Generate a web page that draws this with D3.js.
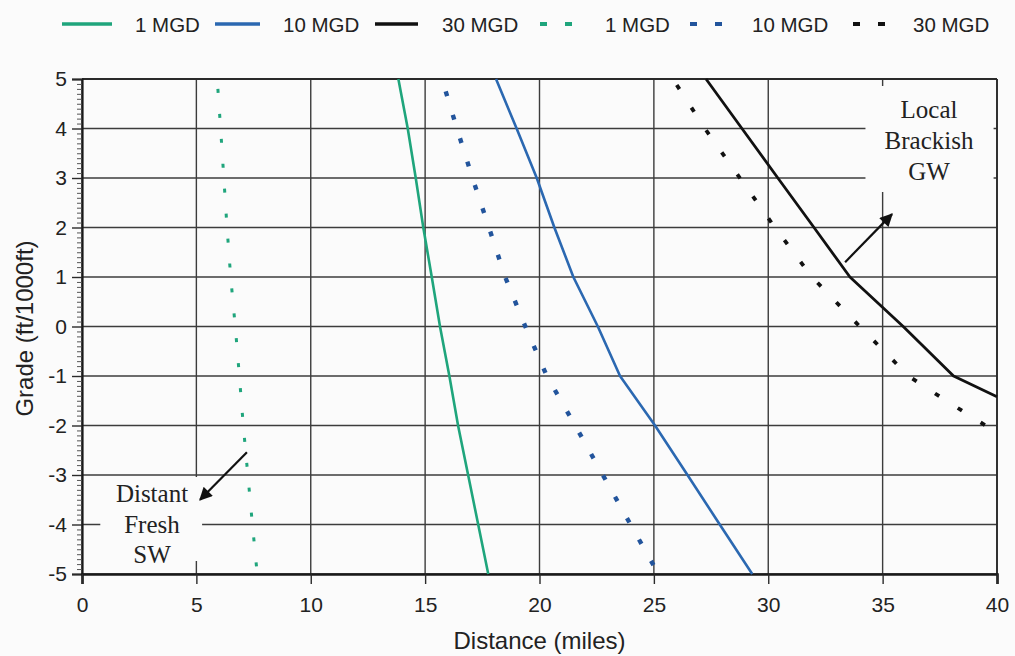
<!DOCTYPE html>
<html><head><meta charset="utf-8">
<script src="https://cdn.jsdelivr.net/npm/d3@7"></script>
<style>
html,body{margin:0;padding:0;background:#fbfbfb;}
svg{display:block;}
</style></head><body>
<svg id="chart" width="1015" height="656"></svg>
<script>
// ---- data (distance in miles, grade in ft/1000ft) ----
const xTicks = [0, 5, 10, 15, 20, 25, 30, 35, 40];
const yTicks = [5, 4, 3, 2, 1, 0, -1, -2, -3, -4, -5];
const legendLabels = ["1 MGD", "10 MGD", "30 MGD", "1 MGD", "10 MGD", "30 MGD"];

const brackish1MGD = [[13.83,5],[14.24,4],[14.59,3],[14.92,2],[15.29,1],[15.65,0],[16.06,-1],[16.44,-2],[16.88,-3],[17.32,-4],[17.76,-5]];
const brackish10MGD = [[18.1,5],[19.0,4],[19.88,3],[20.65,2],[21.48,1],[22.55,0],[23.52,-1],[25.05,-2],[26.47,-3],[27.88,-4],[29.3,-5]];
const brackish30MGD = [[27.28,5],[28.85,4],[30.42,3],[32.0,2],[33.57,1],[35.9,0],[38.1,-1],[40,-1.42]];
const fresh1MGD = [[5.94,4.8],[6.06,4],[6.2,3],[6.34,2],[6.5,1],[6.7,0],[6.88,-1],[7.05,-2],[7.25,-3],[7.45,-4],[7.66,-5]];
const fresh10MGD = [[15.9,4.75],[16.39,4],[17.07,3],[17.79,2],[18.5,1],[19.38,0],[20.32,-1],[21.56,-2],[22.77,-3],[23.98,-4],[25.2,-5]];
const fresh30MGD = [[26.0,4.88],[27.23,4],[28.76,3],[30.29,2],[31.91,1],[34.0,0],[36.13,-1],[37.11,-1.3],[38.94,-1.84],[40,-2.14]];

const annotLocal = ["Local", "Brackish", "GW"];
const annotDistant = ["Distant", "Fresh", "SW"];

// ---- layout ----
const svg = d3.select("#chart");
const x = d3.scaleLinear().domain([0, 40]).range([82, 997]);
const y = d3.scaleLinear().domain([-5, 5]).range([574, 79]);
const sans = "'Liberation Sans', Arial, Helvetica, sans-serif";
const serif = "'Liberation Serif', 'Times New Roman', serif";
const GREEN = "#1fa57c", BLUE = "#2b68b1", NAVY = "#22549c", BLACK = "#111";

const styles = [
  {data: brackish1MGD, color: GREEN, width: 2.6, dash: null},
  {data: brackish10MGD, color: BLUE, width: 2.6, dash: null},
  {data: brackish30MGD, color: BLACK, width: 2.8, dash: null},
  {data: fresh1MGD, color: GREEN, width: 3, dash: "4,21"},
  {data: fresh10MGD, color: NAVY, width: 4.4, dash: "5,19.5"},
  {data: fresh30MGD, color: BLACK, width: 3.8, dash: "5,22"}
];

// clip
const defs = svg.append("defs");
defs.append("clipPath").attr("id", "plotclip")
  .append("rect").attr("x", x(0)).attr("y", y(5) - 2).attr("width", x(40) - x(0) + 2).attr("height", y(-5) - y(5) + 4);

// arrow marker
defs.append("marker").attr("id", "arrow")
  .attr("viewBox", "0 0 10 10").attr("refX", 9).attr("refY", 5)
  .attr("markerWidth", 17).attr("markerHeight", 13).attr("markerUnits", "userSpaceOnUse")
  .attr("orient", "auto")
  .append("path").attr("d", "M0,0 L10,5 L0,10 Z").attr("fill", BLACK);

// gridlines
const grid = svg.append("g").attr("stroke", "#3c3c3c").attr("stroke-width", 1.4);
grid.selectAll(".gx").data(xTicks).join("line")
  .attr("x1", d => x(d)).attr("x2", d => x(d)).attr("y1", y(5)).attr("y2", y(-5));
grid.selectAll(".gy").data(yTicks).join("line")
  .attr("x1", x(0)).attr("x2", x(40)).attr("y1", d => y(d)).attr("y2", d => y(d));
svg.append("line").attr("x1", x(0)).attr("x2", x(40)).attr("y1", y(5)).attr("y2", y(5))
  .attr("stroke", "#2a2a2a").attr("stroke-width", 2);
svg.append("line").attr("x1", x(40)).attr("x2", x(40)).attr("y1", y(5)).attr("y2", y(-5))
  .attr("stroke", "#2a2a2a").attr("stroke-width", 1.8);

// annotation background boxes (hide gridlines)
const bg = "#fbfbfb";
svg.append("rect").attr("x", x(34.25)).attr("y", 86).attr("width", x(39.85) - x(34.25)).attr("height", 106).attr("fill", bg);
svg.append("rect").attr("x", x(0.8)).attr("y", 477).attr("width", x(5.25) - x(0.8)).attr("height", 84).attr("fill", bg);

// axes
const fmt = d => String(d);
const yAxis = d3.axisLeft(y).tickValues(yTicks).tickSize(10).tickPadding(5).tickFormat(fmt);
const gy = svg.append("g").attr("transform", `translate(${x(0)},0)`).call(yAxis);
const yMinor = d3.range(-50, 51).filter(v => v % 10 !== 0).map(v => v / 10);
const gym = svg.append("g").attr("transform", `translate(${x(0)},0)`)
  .call(d3.axisLeft(y).tickValues(yMinor).tickSize(5).tickFormat(""));
gym.select(".domain").remove();
gym.selectAll("line").attr("stroke", "#555").attr("stroke-width", 1);

const xAxis = d3.axisBottom(x).tickValues(xTicks).tickSize(10).tickPadding(13).tickFormat(fmt);
const gx = svg.append("g").attr("transform", `translate(0,${y(-5)})`).call(xAxis);

[gy, gx].forEach(g => {
  g.select(".domain").attr("stroke", "#1a1a1a").attr("stroke-width", 2.2);
  g.selectAll(".tick line").attr("stroke", "#2a2a2a").attr("stroke-width", 1.4);
  g.selectAll("text").attr("font-family", sans).attr("font-size", 21).attr("fill", "#222");
});
gx.select(".domain").attr("stroke-width", 2.6);

// axis titles
svg.append("text").attr("x", (x(0) + x(40)) / 2).attr("y", 649)
  .attr("text-anchor", "middle").attr("font-family", sans).attr("font-size", 24).attr("fill", "#222")
  .text("Distance (miles)");
svg.append("text").attr("transform", `translate(33,${(y(5) + y(-5)) / 2 + 2}) rotate(-90)`)
  .attr("text-anchor", "middle").attr("font-family", sans).attr("font-size", 24).attr("fill", "#222")
  .text("Grade (ft/1000ft)");

// series
const line = d3.line().x(d => x(d[0])).y(d => y(d[1]));
const plot = svg.append("g").attr("clip-path", "url(#plotclip)");
styles.forEach(s => {
  plot.append("path").datum(s.data).attr("d", line)
    .attr("fill", "none").attr("stroke", s.color).attr("stroke-width", s.width)
    .attr("stroke-dasharray", s.dash).attr("stroke-linejoin", "round");
});

// annotations
svg.append("line").attr("x1", x(33.36)).attr("y1", y(1.30)).attr("x2", x(35.41)).attr("y2", y(2.27))
  .attr("stroke", BLACK).attr("stroke-width", 2.2).attr("marker-end", "url(#arrow)");
svg.append("line").attr("x1", x(7.21)).attr("y1", y(-2.54)).attr("x2", x(5.16)).attr("y2", y(-3.5))
  .attr("stroke", BLACK).attr("stroke-width", 2.2).attr("marker-end", "url(#arrow)");

svg.append("g").selectAll("text").data(annotLocal).join("text")
  .attr("x", x(37.03)).attr("y", (d, i) => 118 + i * 31)
  .attr("text-anchor", "middle").attr("font-family", serif).attr("font-size", 25).attr("fill", "#222")
  .text(d => d);
svg.append("g").selectAll("text").data(annotDistant).join("text")
  .attr("x", x(3.06)).attr("y", (d, i) => 502 + i * 30.5)
  .attr("text-anchor", "middle").attr("font-family", serif).attr("font-size", 25).attr("fill", "#222")
  .text(d => d);

// legend
const legendPos = [
  {x1: 62, x2: 112, tx: 135},
  {x1: 215, x2: 260, tx: 283},
  {x1: 375, x2: 418, tx: 442},
  {x1: 540, x2: 575, tx: 605},
  {x1: 690, x2: 725, tx: 752},
  {x1: 853, x2: 885, tx: 913}
];
const leg = svg.append("g");
legendLabels.forEach((lab, i) => {
  const s = styles[i], p = legendPos[i];
  leg.append("line").attr("x1", p.x1).attr("x2", p.x2).attr("y1", 24).attr("y2", 24)
    .attr("stroke", s.color).attr("stroke-width", s.dash ? 4 : 3.4)
    .attr("stroke-dasharray", s.dash ? "7,18" : null);
  leg.append("text").attr("x", p.tx).attr("y", 32).attr("font-family", sans).attr("font-size", 20.5)
    .attr("fill", "#222").text(lab);
});
</script>
</body></html>
